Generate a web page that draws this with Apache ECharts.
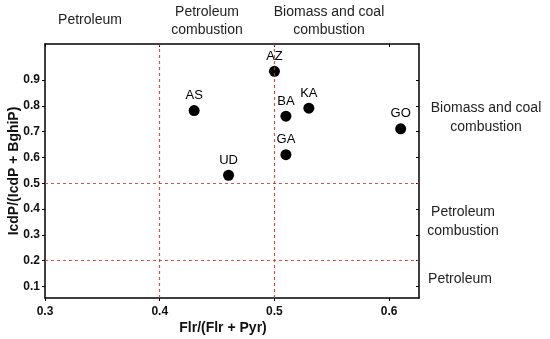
<!DOCTYPE html>
<html><head><meta charset="utf-8">
<script src="https://cdn.jsdelivr.net/npm/echarts@6/dist/echarts.min.js"></script>
<style>html,body{margin:0;padding:0;background:#fff}#c{width:550px;height:339px}</style>
</head><body><div id="c"></div>
<script>
const siteNames = ['AZ','AS','BA','KA','GO','GA','UD'];
const flrRatio = [0.50, 0.43, 0.51, 0.53, 0.61, 0.51, 0.46];
const icdpRatio = [0.934, 0.782, 0.76, 0.791, 0.711, 0.611, 0.531];
const xTicks = [0.3, 0.4, 0.5, 0.6];
const yTicks = [0.1, 0.2, 0.3, 0.4, 0.5, 0.6, 0.7, 0.8, 0.9];
const xThresholds = [0.4, 0.5];
const yThresholds = [0.5, 0.2];
const xRange = [0.3, 0.626];
const yRange = [0.055, 1.04];

const font = 'Liberation Sans, Arial, sans-serif';
const chart = echarts.init(document.getElementById('c'));
const axisLine = {show: true, lineStyle: {color: '#000', width: 1.5}};
const fmt = v => Number(v).toFixed(1);
const dash = '#c0392b';

chart.setOption({
  animation: false,
  grid: {left: 45, top: 44, right: 131, bottom: 41, containLabel: false, outerBoundsMode: 'none'},
  xAxis: [{
    type: 'value', min: xRange[0], max: xRange[1], position: 'bottom',
    axisLine, splitLine: {show: false},
    axisTick: {show: true, length: 3, customValues: xTicks, lineStyle: {color: '#000'}},
    axisLabel: {customValues: xTicks, formatter: fmt, fontFamily: font, fontWeight: 'bold', fontSize: 12, color: '#111', margin: 8},
    name: 'Flr/(Flr + Pyr)', nameLocation: 'middle', nameGap: 23, nameMoveOverlap: false,
    nameTextStyle: {fontFamily: font, fontWeight: 'bold', fontSize: 14, color: '#111', padding: [0, 18, 0, 0]}
  }, {
    type: 'value', min: xRange[0], max: xRange[1], position: 'top',
    axisLine, splitLine: {show: false},
    axisTick: {show: true, inside: true, length: 3, customValues: xTicks, lineStyle: {color: '#000'}},
    axisLabel: {show: false}
  }],
  yAxis: [{
    type: 'value', min: yRange[0], max: yRange[1], position: 'left',
    axisLine, splitLine: {show: false},
    axisTick: {show: true, length: 3, customValues: yTicks, lineStyle: {color: '#000'}},
    axisLabel: {customValues: yTicks, formatter: fmt, fontFamily: font, fontWeight: 'bold', fontSize: 12, color: '#111', margin: 5},
    name: 'IcdP/(IcdP + BghiP)', nameLocation: 'middle', nameGap: 24, nameMoveOverlap: false,
    nameTextStyle: {fontFamily: font, fontWeight: 'bold', fontSize: 14, color: '#111'}
  }, {
    type: 'value', min: yRange[0], max: yRange[1], position: 'right',
    axisLine, splitLine: {show: false},
    axisTick: {show: true, inside: true, length: 3, customValues: yTicks, lineStyle: {color: '#000'}},
    axisLabel: {show: false}
  }],
  series: [{
    type: 'scatter',
    symbolSize: 11,
    itemStyle: {color: '#000', opacity: 1},
    data: siteNames.map((n, i) => ({value: [flrRatio[i], icdpRatio[i]], name: n})),
    label: {show: true, position: 'top', distance: 3, formatter: p => p.name, fontFamily: font, fontSize: 13, color: '#000'},
    markLine: {
      silent: true, symbol: 'none', label: {show: false},
      lineStyle: {color: dash, type: [3, 3], width: 1.2, opacity: 0.85},
      data: xThresholds.map(v => ({xAxis: v})).concat(yThresholds.map(v => ({yAxis: v})))
    },
    z: 3
  }],
  graphic: [
    {type: 'text', x: 90, y: 20, style: {text: 'Petroleum', font: '14px ' + font, fill: '#222', align: 'center', verticalAlign: 'middle'}},
    {type: 'text', x: 207, y: 21, style: {text: 'Petroleum\ncombustion', font: '14px ' + font, fill: '#222', align: 'center', verticalAlign: 'middle', lineHeight: 18}},
    {type: 'text', x: 329, y: 21, style: {text: 'Biomass and coal\ncombustion', font: '14px ' + font, fill: '#222', align: 'center', verticalAlign: 'middle', lineHeight: 18}},
    {type: 'text', x: 486, y: 118, style: {text: 'Biomass and coal\ncombustion', font: '14px ' + font, fill: '#222', align: 'center', verticalAlign: 'middle', lineHeight: 19}},
    {type: 'text', x: 463, y: 222, style: {text: 'Petroleum\ncombustion', font: '14px ' + font, fill: '#222', align: 'center', verticalAlign: 'middle', lineHeight: 19}},
    {type: 'text', x: 460, y: 279, style: {text: 'Petroleum', font: '14px ' + font, fill: '#222', align: 'center', verticalAlign: 'middle'}}
  ]
});
</script></body></html>
